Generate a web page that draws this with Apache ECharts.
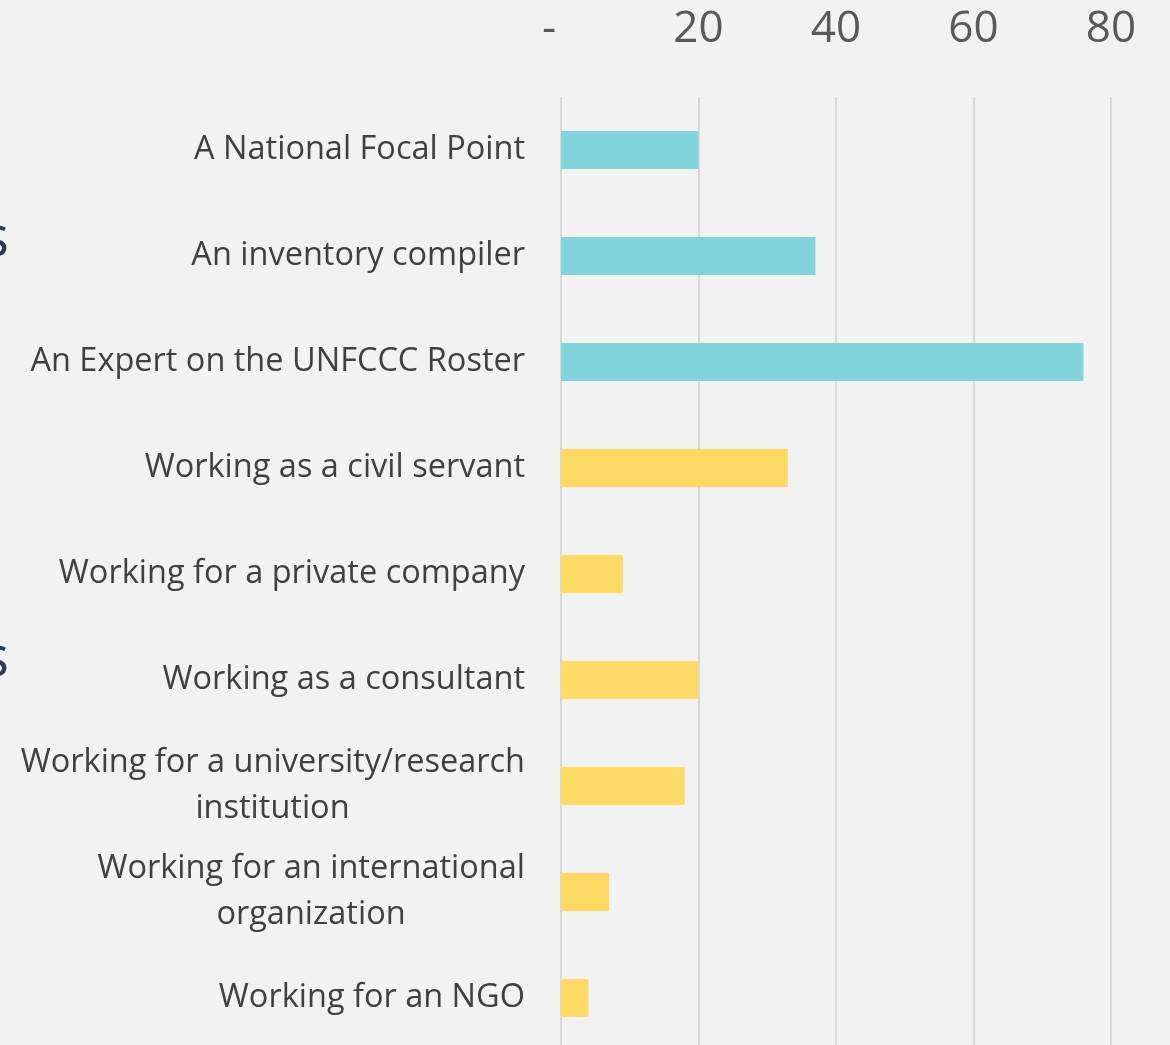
<!DOCTYPE html>
<html>
<head>
<meta charset="utf-8">
<script src="https://cdn.jsdelivr.net/npm/echarts@6/dist/echarts.min.js"></script>
<style>
html,body{margin:0;padding:0;background:#f2f2f2;}
#chart{width:1170px;height:1045px;}
</style>
</head>
<body>
<div id="chart"></div>
<script>
const categories = [
  'A National Focal Point',
  'An inventory compiler',
  'An Expert on the UNFCCC Roster',
  'Working as a civil servant',
  'Working for a private company',
  'Working as a consultant',
  'Working for a university/research\ninstitution',
  'Working for an international\norganization',
  'Working for an NGO'
];
const values = [20, 37, 76, 33, 9, 20, 18, 7, 4];
const groups = ['role', 'role', 'role', 'work', 'work', 'work', 'work', 'work', 'work'];
const tickLabels = { 0: '-', 20: '20', 40: '40', 60: '60', 80: '80' };

const FONT = 'Open Sans';
const LABEL_SIZE = 32.5;
const groupColors = { role: '#81D4DC', work: '#FFD966' };

const ctx = document.createElement('canvas').getContext('2d');
ctx.font = LABEL_SIZE + 'px "' + FONT + '"';

function fmt(v) {
  const lines = v.split('\n');
  if (lines.length === 1) return '{a|' + v + '}';
  const w = Math.ceil(ctx.measureText(lines[0]).width);
  return '{a|' + lines[0] + '}\n{' + (w > 460 ? 'c' : 'e') + '|' + lines[1] + '}';
}

const w1 = Math.ceil(ctx.measureText('Working for a university/research').width);
const w2 = Math.ceil(ctx.measureText('Working for an international').width);

const chart = echarts.init(document.getElementById('chart'));
chart.setOption({
  backgroundColor: '#f2f2f2',
  animation: false,
  grid: { left: 561, top: 97, width: 550, height: 954, containLabel: false, outerBoundsMode: 'none' },
  xAxis: {
    type: 'value',
    position: 'top',
    min: 0, max: 80, interval: 20,
    axisLine: { show: false },
    axisTick: { show: false },
    splitLine: { show: true, showMinLine: true, showMaxLine: true, lineStyle: { color: '#d9d9d9', width: 2 } },
    axisLabel: {
      formatter: v => v === 0 ? '{d|' + tickLabels[v] + '}' : (tickLabels[v] !== undefined ? tickLabels[v] : String(v)),
      fontFamily: FONT, fontSize: 44, color: '#595959', margin: 46,
      rich: { d: { fontFamily: FONT, fontSize: 44, color: '#595959', padding: [0, 24, 0, 0] } }
    }
  },
  yAxis: {
    type: 'category',
    inverse: true,
    data: categories,
    axisLine: { show: false },
    axisTick: { show: false },
    axisLabel: {
      margin: 36,
      formatter: fmt,
      rich: {
        a: { fontFamily: FONT, fontSize: LABEL_SIZE, color: '#404040', lineHeight: 46 },
        c: { fontFamily: FONT, fontSize: LABEL_SIZE, color: '#404040', lineHeight: 46, width: w1, align: 'center' },
        e: { fontFamily: FONT, fontSize: LABEL_SIZE, color: '#404040', lineHeight: 46, width: w2, align: 'center' }
      }
    }
  },
  graphic: [
    { type: 'text', x: 9, y: 240, style: { text: 's', fontFamily: FONT, fontSize: 56, fill: '#2b3a4f', align: 'right', verticalAlign: 'middle' } },
    { type: 'text', x: 9, y: 660, style: { text: 's', fontFamily: FONT, fontSize: 56, fill: '#2b3a4f', align: 'right', verticalAlign: 'middle' } }
  ],
  series: [{
    type: 'bar',
    barWidth: 38,
    data: values.map((v, i) => ({ value: v, itemStyle: { color: groupColors[groups[i]] } }))
  }]
});
</script>
</body>
</html>
